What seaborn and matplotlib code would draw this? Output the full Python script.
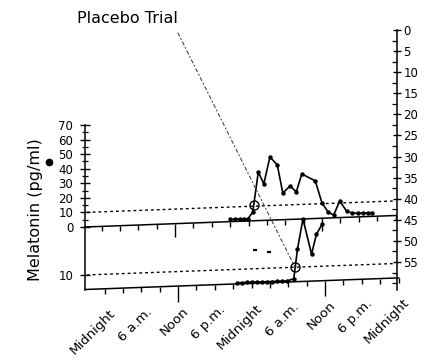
import math
import numpy as np
import matplotlib
matplotlib.use("Agg")
import matplotlib.pyplot as plt
import seaborn as sns
from matplotlib.transforms import Affine2D, offset_copy
from matplotlib.lines import Line2D
from matplotlib.ticker import MultipleLocator

# ---------------- data ----------------
# upper panel: melatonin (pg/ml) vs clock hour (0 = first midnight)
up_hours = [21.0, 21.8, 22.6, 23.3, 23.9, 24.7, 25.6, 26.5, 27.5, 28.7, 29.6,
            30.8, 31.8, 32.7, 34.9, 36.0, 37.0, 37.9, 38.9, 40.0, 40.9, 41.9,
            42.7, 43.5, 44.2]
up_vals = [1.5, 1.5, 1.5, 1.5, 1.5, 6.0, 33.4, 25.0, 43.4, 37.7, 18.3,
           23.0, 18.7, 30.9, 25.8, 10.5, 4.1, 1.9, 11.4, 4.3, 2.8, 2.5,
           2.5, 2.5, 2.5]
up_onset = (24.9, 11.0)

# lower panel (inverted scale)
low_hours = [21.6, 22.4, 23.2, 24.1, 24.9, 25.7, 26.5, 27.3, 28.2, 29.0, 29.8,
             30.9, 31.5, 32.4, 33.8, 34.6, 35.5]
low_vals = [12.8, 12.8, 12.8, 12.8, 12.8, 12.8, 12.8, 12.8, 12.8, 12.8, 12.8,
            12.4, 6.3, 0.0, 7.4, 3.3, 1.3]
low_onset = (31.1, 10.0)
stray_hours = [24.6, 26.9]
stray_vals = [6.1, 6.6]

threshold_up = 10
threshold_low = 10

tick_hours = list(range(0, 49, 3))
label_hours = [0, 6, 12, 18, 24, 30, 36, 42, 48]
label_texts = ["Midnight", "6 a.m.", "Noon", "6 p.m.", "Midnight",
               "6 a.m.", "Noon", "6 p.m.", "Midnight"]
up_yticks = [0, 10, 20, 30, 40, 50, 60, 70]
right_yticks = list(range(0, 56, 5))

# ---------------- layout ----------------
sns.set_theme(style="white")
plt.rcParams["font.family"] = ["DejaVu Sans"]

W, H = 428, 364
fig = plt.figure(figsize=(W / 100, H / 100), dpi=100)
fig.patch.set_facecolor("white")


def box(x0, y0, x1, y1):
    return [x0 / W, (H - y1) / H, (x1 - x0) / W, (y1 - y0) / H]


LEFT, RIGHT = 85, 396.5
UP_ZERO, UP_TOP, LOW_BOT = 227, 125, 289.5
PXH, UP_MID, LOW_MID = 6.125, 101.5, 104.5
LOW_MAX = 10 * (LOW_BOT - UP_ZERO) / 48.0
R_TOP, R_BOT = 30, 290
R_MAX = 55 * (R_BOT - R_TOP) / (262 - 30)
K = 0.037  # perspective slant

skewT = Affine2D().translate(-LEFT, 0).skew(0, math.atan(K)).translate(LEFT, 0)

ax_up = fig.add_axes(box(LEFT, UP_TOP, RIGHT, UP_ZERO))
ax_low = fig.add_axes(box(LEFT, UP_ZERO, 399, LOW_BOT))
ax_r = fig.add_axes(box(300, R_TOP, RIGHT, R_BOT))

up_xlim = ((LEFT - UP_MID) / PXH, (RIGHT - UP_MID) / PXH)
low_xlim = ((LEFT - LOW_MID) / PXH, (399 - LOW_MID) / PXH)


def set_lims():
    ax_up.set_xlim(*up_xlim)
    ax_up.set_ylim(0, 70)
    ax_low.set_xlim(*low_xlim)
    ax_low.set_ylim(LOW_MAX, 0)
    ax_r.set_ylim(R_MAX, 0)
    ax_r.set_xlim(0, 1)


set_lims()
tr_up = ax_up.transData + skewT
tr_low = ax_low.transData + skewT

for ax in (ax_up, ax_low, ax_r):
    ax.patch.set_visible(False)
    for s in ax.spines.values():
        s.set_visible(False)
    ax.set_xticks([])
    ax.grid(False)

# ---------------- upper panel ----------------
sns.lineplot(x=up_hours, y=up_vals, ax=ax_up, color="black", lw=1.2,
             marker="o", markersize=3.2, markeredgewidth=0, sort=False,
             estimator=None, legend=False, transform=tr_up, clip_on=False)
ax_up.plot([up_onset[0]], [up_onset[1]], marker="o", mfc="none", mec="black",
           ms=6.5, mew=1.0, transform=tr_up, clip_on=False)
ax_up.plot(up_xlim, [0, 0], color="black", lw=1.1, transform=tr_up, clip_on=False)
ax_up.plot([up_xlim[0] + 0.3, up_xlim[1] - 0.3], [threshold_up] * 2, color="black",
           lw=1.0, ls=(0, (2, 2.2)), transform=tr_up, clip_on=False)
ax_up.vlines(tick_hours, 0, [-8.9 if h in (12, 36) else -3.4 for h in tick_hours],
             color="black", lw=1.0, transform=tr_up, clip_on=False)

# ---------------- lower panel ----------------
sns.lineplot(x=low_hours, y=low_vals, ax=ax_low, color="black", lw=1.2,
             marker="o", markersize=3.2, markeredgewidth=0, sort=False,
             estimator=None, legend=False, transform=tr_low, clip_on=False)
ax_low.plot([low_onset[0]], [low_onset[1]], marker="o", mfc="none", mec="black",
            ms=6.5, mew=1.0, transform=tr_low, clip_on=False)
ax_low.plot(stray_hours, stray_vals, ls="none", marker="_", ms=2.5, mew=1.6,
            color="black", transform=tr_low, clip_on=False)
ax_low.plot(low_xlim, [LOW_MAX, LOW_MAX], color="black", lw=1.1,
            transform=tr_low, clip_on=False)
ax_low.plot([low_xlim[0] + 0.3, low_xlim[1] - 0.6], [threshold_low] * 2, color="black",
            lw=1.0, ls=(0, (2, 2.2)), transform=tr_low, clip_on=False)
ax_low.vlines(tick_hours, LOW_MAX,
              [LOW_MAX + (3.3 if h in (12, 36) else 1.05) for h in tick_hours],
              color="black", lw=1.0, transform=tr_low, clip_on=False)

lab_tr = offset_copy(tr_low, fig=fig, x=4, y=-18, units="dots")
for h, t in zip(label_hours, label_texts):
    ax_low.text(h, LOW_MAX, t, transform=lab_tr, rotation=45, ha="right",
                va="top", rotation_mode="anchor", fontsize=9.5, color="black")

# ---------------- left axis ----------------
ax_up.spines["left"].set_visible(True)
ax_up.spines["left"].set_color("black")
ax_up.spines["left"].set_linewidth(1.1)
ax_up.set_yticks(up_yticks)
ax_up.set_yticklabels([str(v) for v in up_yticks])
ax_up.yaxis.set_minor_locator(MultipleLocator(5))
ax_up.tick_params(axis="y", which="major", direction="inout", length=7, width=1.0,
                  labelsize=8.5, pad=5, left=True, colors="black")
ax_up.tick_params(axis="y", which="minor", direction="inout", length=4, width=0.9,
                  left=True, colors="black")

ax_low.spines["left"].set_visible(True)
ax_low.spines["left"].set_color("black")
ax_low.spines["left"].set_linewidth(1.1)
ax_low.set_yticks([10])
ax_low.set_yticklabels(["10"])
ax_low.tick_params(axis="y", which="major", direction="inout", length=7, width=1.0,
                   labelsize=8.5, pad=5, left=True, colors="black")

# ---------------- right axis ----------------
ax_r.spines["right"].set_visible(True)
ax_r.spines["right"].set_color("black")
ax_r.spines["right"].set_linewidth(1.1)
ax_r.yaxis.tick_right()
ax_r.set_yticks(right_yticks)
ax_r.set_yticklabels([str(v) for v in right_yticks])
ax_r.yaxis.set_minor_locator(MultipleLocator(2.5))
ax_r.tick_params(axis="y", which="major", direction="inout", length=6, width=1.0,
                 labelsize=8.5, pad=2, right=True, left=False, colors="black")
ax_r.tick_params(axis="y", which="minor", direction="in", length=3.5, width=0.9,
                 right=True, left=False, colors="black")

# ---------------- text ----------------
fig.text(36 / W, (H - 210) / H, "Melatonin (pg/ml)", rotation=90, ha="center",
         va="center", fontsize=11.5, color="black")
fig.add_artist(Line2D([49 / W], [(H - 162) / H], marker="o", ms=4.5,
                      color="black", transform=fig.transFigure))
fig.text(77 / W, (H - 23) / H, "Placebo Trial", ha="left", va="baseline",
         fontsize=11.5, color="black")
ax_low.annotate("", xy=low_onset, xycoords=tr_low, xytext=(178, H - 33),
                textcoords="figure pixels",
                arrowprops=dict(arrowstyle="-", lw=0.8, color="#444444",
                                linestyle=(0, (3, 2.5, 1, 2.5)), shrinkA=0, shrinkB=0))

set_lims()
for ax in (ax_up, ax_low, ax_r):
    ax.set_xlabel("")
    ax.set_ylabel("")

fig.savefig("out.png", dpi=100, facecolor="white")
